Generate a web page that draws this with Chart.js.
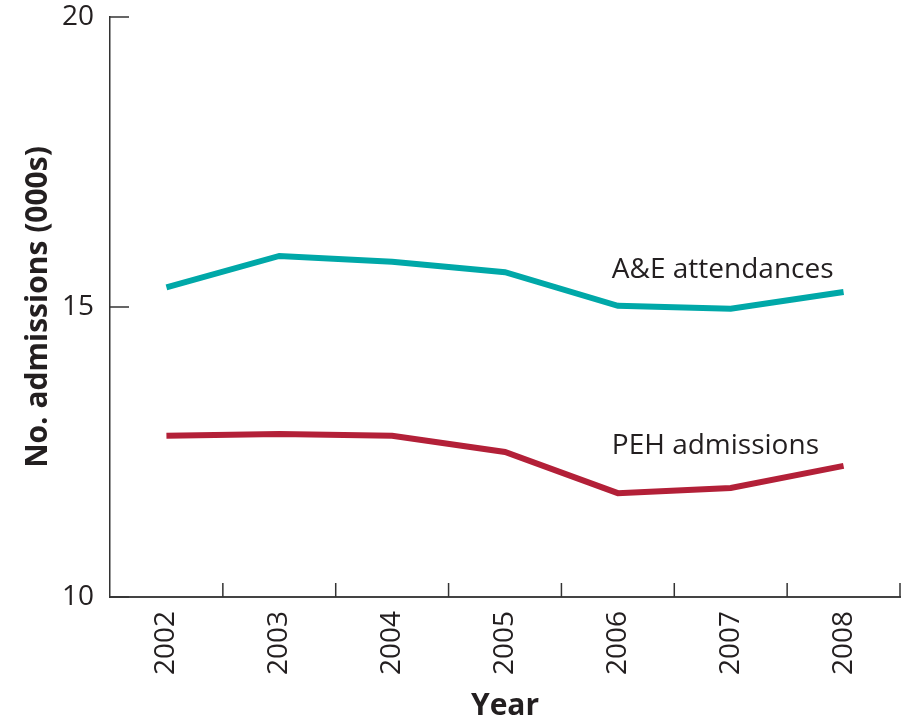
<!DOCTYPE html>
<html>
<head>
<meta charset="utf-8">
<script src="https://cdn.jsdelivr.net/npm/chart.js@4/dist/chart.umd.min.js"></script>
<style>
  html, body { margin: 0; padding: 0; background: #fff; }
  #wrap { width: 904px; height: 724px; }
</style>
</head>
<body>
<div id="wrap"><canvas id="chart" width="904" height="724"></canvas></div>
<script>
const years = ['2002', '2003', '2004', '2005', '2006', '2007', '2008'];
const aeAttendances = [15.34, 15.88, 15.78, 15.6, 15.02, 14.97, 15.26];
const pehAdmissions = [12.78, 12.81, 12.78, 12.5, 11.79, 11.88, 12.26];
const yTicks = [10, 15, 20];
const seriesLabels = ['A&E attendances', 'PEH admissions'];

const FONT = "'Open Sans', 'Noto Sans', sans-serif";

// series names written next to the lines, and inward-pointing tick marks
const annotations = {
  id: 'annotations',
  afterDraw(chart) {
    const ctx = chart.ctx;
    const x = chart.scales.x;
    const y = chart.scales.y;
    const area = chart.chartArea;
    ctx.save();

    ctx.strokeStyle = '#333';
    ctx.lineWidth = 1.5;
    // y ticks, pointing right
    yTicks.forEach(v => {
      const py = y.getPixelForValue(v);
      ctx.beginPath();
      ctx.moveTo(area.left, py);
      ctx.lineTo(area.left + 19, py);
      ctx.stroke();
    });
    // x ticks between categories, pointing up
    const step = x.getPixelForValue(1) - x.getPixelForValue(0);
    for (let i = 0; i < years.length; i++) {
      const px = x.getPixelForValue(i) + step / 2;
      ctx.beginPath();
      ctx.moveTo(px, area.bottom);
      ctx.lineTo(px, area.bottom - 14);
      ctx.stroke();
    }

    ctx.fillStyle = '#231f20';
    ctx.font = '28px ' + FONT;
    ctx.textAlign = 'left';
    ctx.textBaseline = 'alphabetic';
    const lx = x.getPixelForValue(4) - 6;
    ctx.fillText(seriesLabels[0], lx, y.getPixelForValue(15.5));
    ctx.fillText(seriesLabels[1], lx, y.getPixelForValue(12.47));
    ctx.restore();
  }
};

new Chart(document.getElementById('chart'), {
  type: 'line',
  data: {
    labels: years,
    datasets: [
      {
        label: seriesLabels[0],
        data: aeAttendances,
        borderColor: '#00a8a8',
        borderWidth: 6,
        pointRadius: 0,
        tension: 0,
        fill: false
      },
      {
        label: seriesLabels[1],
        data: pehAdmissions,
        borderColor: '#b32038',
        borderWidth: 6,
        pointRadius: 0,
        tension: 0,
        fill: false
      }
    ]
  },
  options: {
    responsive: false,
    animation: false,
    layout: { padding: { top: 0, right: 4, left: 0, bottom: 0 } },
    plugins: {
      legend: { display: false },
      tooltip: { enabled: false }
    },
    scales: {
      x: {
        offset: true,
        grid: { display: false, offset: true },
        border: { display: true, color: '#444', width: 2 },
        ticks: {
          color: '#231f20',
          font: { family: FONT, size: 28 },
          minRotation: 90,
          maxRotation: 90,
          padding: 6
        },
        title: {
          display: true,
          text: 'Year',
          color: '#231f20',
          font: { family: FONT, size: 30, weight: 'bold' },
          padding: { top: 4, bottom: 0 }
        },
        afterFit(scale) { scale.height = 127; }
      },
      y: {
        min: 10,
        max: 20,
        afterBuildTicks(scale) { scale.ticks = yTicks.map(v => ({ value: v })); },
        grid: { display: false },
        border: { display: true, color: '#333', width: 1.5 },
        ticks: {
          color: '#231f20',
          font: { family: FONT, size: 28 },
          padding: 8
        },
        title: {
          display: true,
          text: 'No. admissions (000s)',
          color: '#231f20',
          font: { family: FONT, size: 30, weight: 'bold' },
          padding: { top: 20, bottom: 0 }
        },
        afterFit(scale) {
          scale.width = 110;
          scale.paddingTop = 17;
          scale.paddingBottom = 0;
        }
      }
    }
  },
  plugins: [annotations]
});
</script>
</body>
</html>
